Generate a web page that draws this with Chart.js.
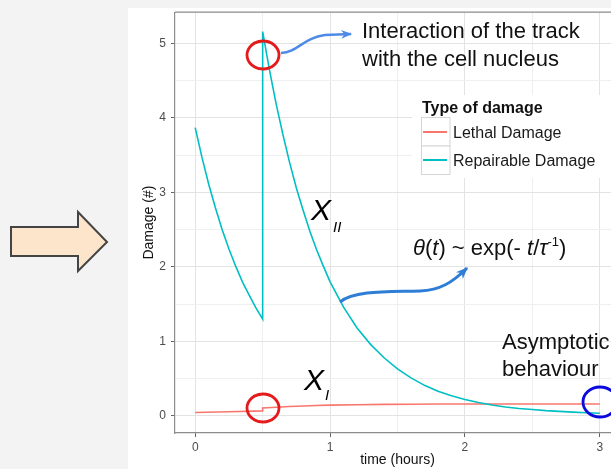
<!DOCTYPE html>
<html lang="en">
<head>
  <meta charset="UTF-8" />
  <title>Damage over time</title>
  <script src="https://cdn.jsdelivr.net/npm/chart.js"></script>
  <style>
    html, body { margin: 0; padding: 0; overflow: hidden; }
    body { width: 611px; height: 469px; background: #f3f3f3; position: relative; font-family: "Liberation Sans", Arial, sans-serif; }
    #sheet { position: absolute; left: 128px; top: 8px; width: 483px; height: 461px; background: #fff; }
    #plot { position: absolute; left: 0; top: 0; }
    #notes { position: absolute; left: 0; top: 0; }
    #notes text { font-family: "Liberation Sans", Arial, sans-serif; }
  </style>
</head>
<body>
  <div id="sheet"></div>
  <canvas id="plot" width="640" height="469"></canvas>

  <!-- Arrows, circles, legend and notes on top of the plot -->
  <svg id="notes" width="611" height="469">
    <defs>
      <marker id="headA" viewBox="0 0 10 10" refX="9" refY="5" markerWidth="13" markerHeight="11" markerUnits="userSpaceOnUse" orient="auto">
        <path d="M0,1 L10,5 L0,9 L3,5 z" fill="#4f8be6" />
      </marker>
      <marker id="headB" viewBox="0 0 10 10" refX="9" refY="5" markerWidth="14" markerHeight="12" markerUnits="userSpaceOnUse" orient="auto">
        <path d="M0,1 L10,5 L0,9 L3,5 z" fill="#2e7dd6" />
      </marker>
    </defs>

    <polygon points="11,227 78,227 78,212 107,242 78,271 78,256 11,256" fill="#fde5cc" stroke="#444" stroke-width="2" />

    <!-- legend -->
    <rect x="412" y="95" width="210" height="83" fill="#fff" />
    <text x="422" y="113" font-size="16" font-weight="bold" fill="#111">Type of damage</text>
    <rect x="421.5" y="117.5" width="28.5" height="28.5" fill="#fff" stroke="#d5d5d5" />
    <rect x="421.5" y="146" width="28.5" height="28.5" fill="#fff" stroke="#d5d5d5" />
    <line x1="423" y1="132" x2="447" y2="132" stroke="#F8766D" stroke-width="2" />
    <line x1="423" y1="160" x2="447" y2="160" stroke="#00BFC4" stroke-width="2" />
    <text x="453" y="138" font-size="16" fill="#1a1a1a">Lethal Damage</text>
    <text x="453" y="166" font-size="16" fill="#1a1a1a">Repairable Damage</text>

    <!-- callouts -->
    <ellipse cx="263" cy="55" rx="16" ry="14" fill="none" stroke="#e31b1b" stroke-width="2.8" />
    <ellipse cx="263" cy="408" rx="16" ry="14" fill="none" stroke="#e31b1b" stroke-width="2.8" />
    <ellipse cx="600" cy="402" rx="17" ry="15" fill="none" stroke="#0a0adf" stroke-width="2.8" />

    <path d="M281,53 C298,52 303,38 325,35 L351,34" fill="none" stroke="#4f8be6" stroke-width="2.5" marker-end="url(#headA)" />
    <path d="M340,302 C355,290 390,292 420,291 C440,290 452,283 467,268" fill="none" stroke="#2e7dd6" stroke-width="3" marker-end="url(#headB)" />

    <text x="362" y="38" font-size="22" fill="#111">Interaction of the track</text>
    <text x="362" y="65.5" font-size="22" fill="#111">with the cell nucleus</text>

    <text x="413" y="255" font-size="22" fill="#111"><tspan font-style="italic">θ</tspan>(<tspan font-style="italic">t</tspan>) ~ exp(- <tspan font-style="italic">t</tspan>/<tspan font-style="italic">τ</tspan><tspan font-size="13" dy="-9">-1</tspan><tspan dy="9">)</tspan></text>

    <text x="502" y="349" font-size="22" fill="#111">Asymptotic</text>
    <text x="502" y="376" font-size="22" fill="#111">behaviour</text>

    <text x="311" y="220" font-size="30" font-style="italic" fill="#000">X</text>
    <text x="333" y="232" font-size="15" font-style="italic" fill="#000">II</text>
    <text x="304" y="390" font-size="30" font-style="italic" fill="#000">X</text>
    <text x="325" y="400" font-size="15" font-style="italic" fill="#000">I</text>
  </svg>

  <script>
    // Lethal damage (X_I), step at the track hit
    const lethalTimes  = [0, 0.25, 0.5, 0.5, 0.6, 0.7, 0.8, 0.9, 1.0, 1.2, 1.4, 1.6, 1.8, 2.0, 2.5, 3.0];
    const lethalValues = [0.045, 0.056, 0.067, 0.105, 0.116, 0.125, 0.132, 0.139, 0.144, 0.150, 0.154, 0.157, 0.159, 0.16, 0.16, 0.16];

    // Repairable damage (X_II), repaired away, refilled at t = 0.5
    const repairTimes  = [0, 0.05, 0.1, 0.15, 0.2, 0.25, 0.3, 0.35, 0.4, 0.45, 0.5,
                          0.5, 0.55, 0.6, 0.65, 0.7, 0.75, 0.8, 0.85, 0.9, 0.95, 1.0,
                          1.1, 1.2, 1.3, 1.4, 1.5, 1.6, 1.7, 1.8, 1.9, 2.0,
                          2.1, 2.2, 2.3, 2.4, 2.5, 2.6, 2.7, 2.8, 2.9, 3.0];
    const repairValues = [3.87, 3.47, 3.11, 2.79, 2.50, 2.24, 2.01, 1.80, 1.62, 1.45, 1.30,
                          5.16, 4.65, 4.19, 3.78, 3.40, 3.06, 2.76, 2.48, 2.23, 2.01, 1.80,
                          1.46, 1.18, 0.96, 0.78, 0.63, 0.51, 0.41, 0.33, 0.27, 0.22,
                          0.18, 0.145, 0.12, 0.10, 0.085, 0.07, 0.06, 0.05, 0.042, 0.035];

    const xTicks = [0, 1, 2, 3];
    const yTicks = [0, 1, 2, 3, 4, 5];

    Chart.defaults.font.family = '"Liberation Sans", Arial, sans-serif';

    const isMajor = (v, list) => list.some(t => Math.abs(t - v) < 1e-6);
    const gridColor = list => ctx => isMajor(ctx.tick.value, list) ? '#e3e3e3' : '#efefef';
    const tickMark = list => ctx => isMajor(ctx.tick.value, list) ? '#666' : 'rgba(0,0,0,0)';

    // top and right edges of the panel
    const frame = {
      id: 'frame',
      afterDatasetsDraw(chart) {
        const { ctx, chartArea: a } = chart;
        ctx.save();
        ctx.strokeStyle = '#8c8c8c';
        ctx.lineWidth = 1.2;
        ctx.beginPath();
        ctx.moveTo(a.left, a.top);
        ctx.lineTo(a.right, a.top);
        ctx.lineTo(a.right, a.bottom);
        ctx.stroke();
        ctx.restore();
      }
    };

    new Chart(document.getElementById('plot'), {
      type: 'line',
      data: {
        datasets: [
          {
            label: 'Repairable Damage',
            data: repairTimes.map((t, i) => ({ x: t, y: repairValues[i] })),
            borderColor: '#00BFC4',
            borderWidth: 1.6,
            pointRadius: 0,
            tension: 0
          },
          {
            label: 'Lethal Damage',
            data: lethalTimes.map((t, i) => ({ x: t, y: lethalValues[i] })),
            borderColor: '#F8766D',
            borderWidth: 1.6,
            pointRadius: 0,
            tension: 0
          }
        ]
      },
      options: {
        responsive: false,
        animation: false,
        layout: { padding: { left: 130, right: 20, top: 11, bottom: 0 } },
        plugins: { legend: { display: false }, tooltip: { enabled: false } },
        scales: {
          x: {
            type: 'linear',
            min: -0.15,
            max: 3.15,
            afterFit: s => { s.height = 36; },
            ticks: {
              stepSize: 0.5,
              includeBounds: false,
              autoSkip: false,
              maxRotation: 0,
              padding: 3,
              color: '#4d4d4d',
              font: { size: 12 },
              callback: v => isMajor(v, xTicks) ? String(Math.round(v)) : ''
            },
            grid: { color: gridColor(xTicks), tickColor: tickMark(xTicks), tickLength: 4, lineWidth: 1 },
            border: { color: '#8c8c8c', width: 1.2 },
            title: { display: true, text: 'time (hours)', color: '#111', font: { size: 14 }, padding: { top: 0, bottom: 0 } }
          },
          y: {
            type: 'linear',
            min: -0.23,
            max: 5.42,
            afterFit: s => { s.width = 45; },
            ticks: {
              stepSize: 0.5,
              includeBounds: false,
              autoSkip: false,
              padding: 5,
              color: '#4d4d4d',
              font: { size: 12 },
              callback: v => isMajor(v, yTicks) ? String(Math.round(v)) : ''
            },
            grid: { color: gridColor(yTicks), tickColor: tickMark(yTicks), tickLength: 4, lineWidth: 1 },
            border: { color: '#8c8c8c', width: 1.2 },
            title: { display: true, text: 'Damage (#)', color: '#111', font: { size: 14 }, padding: { top: 11, bottom: 0 } }
          }
        }
      },
      plugins: [frame]
    });
  </script>
</body>
</html>
